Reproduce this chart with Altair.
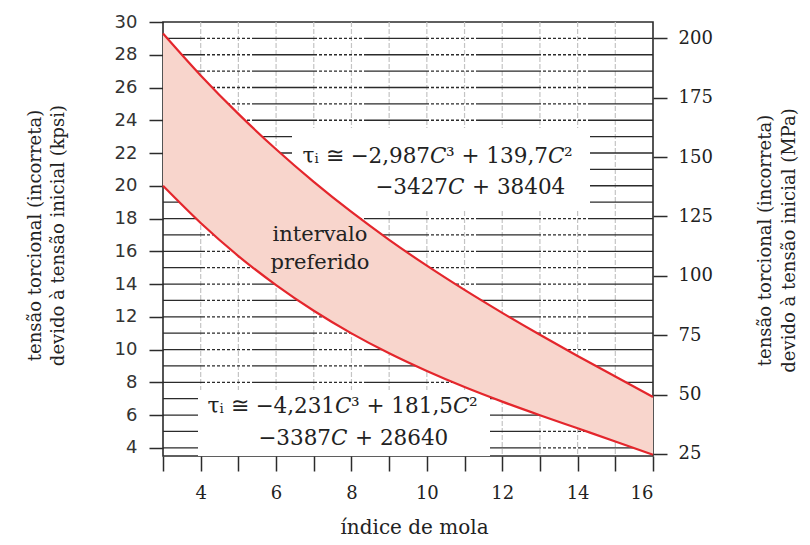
import altair as alt
import pandas as pd

# ---- data ----
C = [3, 4, 5, 6, 7, 8, 9, 10, 11, 12, 13, 14, 15, 16]
upper_kpsi = [29.30, 26.74, 24.39, 22.23, 20.24, 18.40, 16.70, 15.12, 13.64, 12.24, 10.90, 9.61, 8.35, 7.10]
lower_kpsi = [20.00, 17.73, 15.71, 13.94, 12.37, 10.99, 9.77, 8.69, 7.71, 6.82, 5.99, 5.19, 4.39, 3.58]
x_ticks = [3, 4, 5, 6, 7, 8, 9, 10, 11, 12, 13, 14, 15, 16]
kpsi_ticks = [4, 6, 8, 10, 12, 14, 16, 18, 20, 22, 24, 26, 28, 30]
mpa_ticks = [25, 50, 75, 100, 125, 150, 175, 200]
grid_h = list(range(4, 30))
grid_v = list(range(4, 16))
MPA_PER_KPSI = 6.894757

W, H = 490, 434
xs = alt.Scale(domain=[3, 16], nice=False, zero=False)
ys = alt.Scale(domain=[3.5, 30], nice=False, zero=False)

df = pd.DataFrame({"C": C, "upper": upper_kpsi, "lower": lower_kpsi})
one = pd.DataFrame({"a": [0]})

DARK = "#2b2b2b"
SERIF = "DejaVu Serif"

dash = [65, 2] + [3, 2] * 9

vgrid = alt.Chart(pd.DataFrame({"v": grid_v})).mark_rule(
    color="#c4c4c4", strokeWidth=1.2, strokeDash=[5, 2]
).encode(x=alt.X("v:Q", scale=xs, axis=None))

hgrid = alt.Chart(pd.DataFrame({"h": grid_h})).mark_rule(
    color=DARK, strokeWidth=1.3, strokeDash=dash
).encode(y=alt.Y("h:Q", scale=ys, axis=None))

box_up = alt.Chart(one).mark_rect(color="white").encode(
    x=alt.value(129), x2=alt.value(427), y=alt.value(106), y2=alt.value(188)
)
box_lo = alt.Chart(one).mark_rect(color="white").encode(
    x=alt.value(35), x2=alt.value(327), y=alt.value(368), y2=alt.value(434)
)

band = alt.Chart(df).mark_area(color="#f8d5cc", opacity=1, interpolate="monotone").encode(
    x=alt.X("C:Q", scale=xs, axis=None),
    y=alt.Y("lower:Q", scale=ys, axis=None),
    y2="upper:Q",
)

x_axis = alt.Axis(
    values=x_ticks,
    labelExpr="datum.value % 2 == 0 ? datum.label : ''",
    tickSize=15, tickColor=DARK, tickWidth=1.5,
    domain=False, grid=False,
    labelFont=SERIF, labelFontSize=18, labelColor="#222", labelPadding=13,
    title="índice de mola", titleFont=SERIF, titleFontSize=20,
    titleFontWeight="normal", titleColor="#222",
    titleBaseline="alphabetic", titleY=77, titleX=251,
)

y_axis = alt.Axis(
    values=kpsi_ticks,
    tickSize=14, tickColor=DARK, tickWidth=1.5,
    domain=False, grid=False,
    labelFont="DejaVu Sans", labelFontSize=18, labelColor="#333", labelPadding=12,
    title=["tensão torcional (incorreta)", "devido à tensão inicial (kpsi)"],
    titleFont=SERIF, titleFontSize=18, titleFontWeight="normal", titleColor="#222",
    titleLineHeight=23, titleAngle=270, titleAlign="center", titleBaseline="middle",
    titleX=-128, titleY=213,
)

line_up = alt.Chart(df).mark_line(color="#e4262c", strokeWidth=2.2, interpolate="monotone").encode(
    x=alt.X("C:Q", scale=xs, axis=x_axis),
    y=alt.Y("upper:Q", scale=ys, axis=y_axis),
)
line_lo = alt.Chart(df).mark_line(color="#e4262c", strokeWidth=2.2, interpolate="monotone").encode(
    x=alt.X("C:Q", scale=xs, axis=None),
    y=alt.Y("lower:Q", scale=ys, axis=None),
)

mpa_pos = [m / MPA_PER_KPSI for m in mpa_ticks]
right_axis = alt.Axis(
    orient="right", values=mpa_pos,
    labelExpr="format(datum.value * 6.894757, '.0f')",
    tickSize=14, tickColor=DARK, tickWidth=1.5,
    domain=False, grid=False,
    labelFont=SERIF, labelFontSize=18, labelColor="#222", labelPadding=11,
    title=["tensão torcional (incorreta)", "devido à tensão inicial (MPa)"],
    titleFont=SERIF, titleFontSize=18, titleFontWeight="normal", titleColor="#222",
    titleLineHeight=24, titleAngle=270, titleAlign="center", titleBaseline="middle",
    titleX=112, titleY=218,
)
right = alt.Chart(pd.DataFrame({"k": mpa_pos})).mark_rule(opacity=0).encode(
    y=alt.Y("k:Q", scale=ys, axis=right_axis)
)

FS = 21.5
W_C = 0.70 * FS + 1          # italic C advance
W_SUP = 4.737 * FS           # "³ + 139,7" advance
GAP = 8                      # space between C and "+"


def txt(s, x, y, size=FS, align="left", lh=None, style="normal"):
    kw = dict(text=s, font=SERIF, fontSize=size, align=align, baseline="alphabetic",
              color="#222", fontStyle=style)
    if lh is not None:
        kw["lineHeight"] = lh
    return alt.Chart(one).mark_text(**kw).encode(x=alt.value(x), y=alt.value(y))


def formula1(lead, mid, xc, y):
    return [
        txt(lead, xc, y, align="right"),
        txt("C", xc, y, style="italic"),
        txt(mid, xc + W_C, y),
        txt("C", xc + W_C + W_SUP, y, style="italic"),
        txt("²", xc + 2 * W_C + W_SUP, y),
    ]


def formula2(lead, tail, xc, y):
    return [
        txt(lead, xc, y, align="right"),
        txt("C", xc, y, style="italic"),
        txt(tail, xc + W_C + GAP, y),
    ]


texts = []
texts += formula1("τᵢ ≅ −2,987", "³ + 139,7", 267, 141)
texts += formula2("−3427", "+ 38404", 285, 172)
texts += formula1("τᵢ ≅ −4,231", "³ + 181,5", 172, 391)
texts += formula2("−3387", "+ 28640", 168, 423)
texts.append(txt(["intervalo", "preferido"], 157, 219, size=21, align="center", lh=28))

chart = alt.layer(
    vgrid, hgrid, box_up, box_lo, band, line_up, line_lo, right, *texts
).resolve_axis(x="independent", y="independent").properties(
    width=W, height=H,
    autosize=alt.AutoSizeParams(type="none"),
    padding={"left": 155, "top": 14, "right": 149, "bottom": 81},
    background="white",
).configure_view(stroke=DARK, strokeWidth=1.6)

chart.save("out.html", embed_options={"renderer": "svg", "actions": False})
